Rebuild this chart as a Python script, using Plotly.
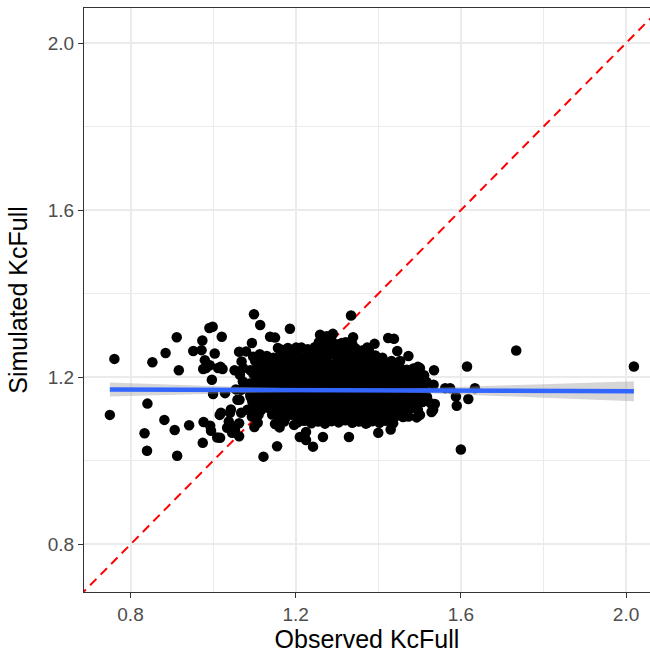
import plotly.graph_objects as go

# ---- data (Observed vs Simulated KcFull) ----
# outlying / peripheral points
obs_outer = [0.761, 0.750, 0.853, 0.912, 0.885, 0.917, 0.841, 0.882, 0.834, 0.907,
             0.942, 0.840, 0.913, 0.975, 0.977, 0.993, 0.995, 1.010, 1.016, 0.991,
             0.999, 0.974, 0.952, 0.972, 1.004, 0.980, 0.992, 0.976, 1.012, 0.997,
             1.000, 1.021, 1.099, 1.114, 1.186, 1.138, 1.150, 1.094, 1.063, 1.080,
             1.157, 1.201, 1.259, 1.275, 1.018, 0.983, 1.334, 1.290, 1.339, 1.263,
             1.424, 1.438, 1.373, 1.391, 1.446, 1.473, 1.453, 1.496, 1.535, 1.312,
             1.615, 1.734, 2.019, 1.600, 1.634, 1.618, 1.590, 1.588, 1.574, 1.562,
             1.534, 1.533, 1.527, 1.501, 1.501, 1.505, 1.034, 1.038, 1.046, 1.063,
             1.063, 1.019, 1.043, 1.059, 1.100, 1.150, 1.161, 1.155, 1.122, 1.210,
             1.225, 1.242, 1.266, 1.196, 1.055, 1.029, 1.064, 1.041, 1.068, 1.041,
             1.053, 1.017, 1.091, 1.023, 1.052, 1.225, 1.329, 1.400, 1.430, 1.373,
             1.460, 1.493, 1.529, 1.537]
sim_outer = [1.244, 1.110, 1.236, 1.296, 1.258, 1.217, 1.137, 1.098, 1.066, 1.074,
             1.085, 1.024, 1.012, 1.043, 1.093, 1.084, 1.072, 1.056, 1.110, 1.318,
             1.321, 1.288, 1.263, 1.265, 1.257, 1.241, 1.229, 1.220, 1.222, 1.194,
             1.160, 1.297, 1.351, 1.325, 1.316, 1.297, 1.295, 1.282, 1.261, 1.262,
             1.270, 1.271, 1.302, 1.298, 1.225, 1.222, 1.348, 1.304, 1.296, 1.297,
             1.294, 1.292, 1.271, 1.280, 1.263, 1.251, 1.239, 1.225, 1.217, 1.282,
             1.226, 1.264, 1.226, 1.027, 1.174, 1.148, 1.132, 1.154, 1.174, 1.174,
             1.182, 1.122, 1.138, 1.110, 1.222, 1.146, 1.079, 1.094, 1.067, 1.059,
             1.090, 1.115, 1.123, 1.146, 1.081, 1.088, 1.080, 1.035, 1.010, 1.057,
             1.050, 1.034, 1.057, 1.086, 1.171, 1.162, 1.146, 1.115, 1.115, 1.086,
             1.074, 1.055, 1.153, 1.220, 1.217, 1.069, 1.057, 1.067, 1.075, 1.091,
             1.105, 1.104, 1.117, 1.136]

# dense core of the cloud (row by row, top to bottom)
obs_core = [
    1.256, 1.271, 1.288, 1.304, 1.321, 1.337,
    1.166, 1.181, 1.197, 1.214, 1.229, 1.246, 1.262, 1.279, 1.295, 1.312, 1.328, 1.345, 1.361, 1.378,
    1.097, 1.113, 1.130, 1.146, 1.163, 1.179, 1.196, 1.212, 1.229, 1.245, 1.262, 1.278, 1.295, 1.311,
    1.327, 1.344, 1.360, 1.377, 1.393, 1.410,
    1.069, 1.102, 1.118, 1.135, 1.151, 1.168, 1.184, 1.201, 1.217, 1.234, 1.250, 1.267, 1.283, 1.300,
    1.316, 1.333, 1.349, 1.366, 1.382, 1.399, 1.415, 1.432, 1.447,
    1.073, 1.090, 1.106, 1.123, 1.139, 1.156, 1.172, 1.189, 1.205, 1.222, 1.238, 1.255, 1.271, 1.288,
    1.304, 1.321, 1.337, 1.354, 1.370, 1.387, 1.403, 1.420, 1.436, 1.453, 1.469, 1.485,
    1.065, 1.098, 1.115, 1.131, 1.148, 1.164, 1.181, 1.197, 1.214, 1.230, 1.247, 1.263, 1.280, 1.296,
    1.313, 1.329, 1.346, 1.362, 1.379, 1.395, 1.412, 1.428, 1.445, 1.461, 1.478, 1.494, 1.511,
    1.072, 1.088, 1.105, 1.121, 1.138, 1.154, 1.171, 1.187, 1.204, 1.220, 1.237, 1.253, 1.270, 1.286,
    1.303, 1.319, 1.336, 1.352, 1.369, 1.385, 1.402, 1.418, 1.435, 1.451, 1.468, 1.484, 1.501, 1.517,
    1.068, 1.084, 1.101, 1.117, 1.134, 1.150, 1.167, 1.183, 1.200, 1.216, 1.233, 1.249, 1.266, 1.282,
    1.299, 1.315, 1.332, 1.348, 1.365, 1.381, 1.398, 1.414, 1.431, 1.447, 1.464, 1.480, 1.497, 1.513,
    1.090, 1.106, 1.123, 1.139, 1.156, 1.172, 1.189, 1.205, 1.222, 1.238, 1.255, 1.271, 1.288, 1.304,
    1.321, 1.337, 1.354, 1.370, 1.387, 1.403, 1.420, 1.436, 1.453, 1.469, 1.486, 1.502, 1.518,
    1.095, 1.111, 1.128, 1.144, 1.161, 1.177, 1.194, 1.210, 1.227, 1.243, 1.260, 1.276, 1.293, 1.309,
    1.326, 1.342, 1.359, 1.375, 1.392, 1.408, 1.425, 1.441, 1.458, 1.474, 1.491, 1.507,
    1.083, 1.100, 1.116, 1.133, 1.149, 1.166, 1.182, 1.199, 1.215, 1.232, 1.248, 1.265, 1.281, 1.298,
    1.314, 1.331, 1.347, 1.364, 1.380, 1.397, 1.413, 1.430, 1.446, 1.463, 1.479, 1.496,
    1.094, 1.110, 1.143, 1.160, 1.176, 1.193, 1.209, 1.226, 1.242, 1.259, 1.275, 1.292, 1.308, 1.325,
    1.341, 1.358, 1.374, 1.391, 1.407, 1.424, 1.440, 1.457, 1.473,
    1.108, 1.172, 1.205, 1.221, 1.238, 1.254, 1.271, 1.287, 1.304, 1.320, 1.337, 1.353, 1.370, 1.386,
    1.403, 1.419, 1.436,
]
sim_core = [
    1.284, 1.281, 1.286, 1.279, 1.284, 1.280,
    1.266, 1.270, 1.264, 1.271, 1.267, 1.272, 1.266, 1.270, 1.265, 1.271, 1.266, 1.269, 1.264, 1.262,
    1.249, 1.255, 1.251, 1.247, 1.253, 1.250, 1.255, 1.249, 1.253, 1.250, 1.256, 1.251, 1.254, 1.249,
    1.255, 1.250, 1.254, 1.249, 1.252, 1.247,
    1.238, 1.239, 1.235, 1.232, 1.238, 1.234, 1.239, 1.233, 1.237, 1.232, 1.238, 1.235, 1.231, 1.237,
    1.234, 1.239, 1.233, 1.236, 1.232, 1.238, 1.234, 1.239, 1.233,
    1.222, 1.217, 1.223, 1.219, 1.216, 1.222, 1.218, 1.223, 1.217, 1.221, 1.216, 1.222, 1.219, 1.224,
    1.218, 1.221, 1.216, 1.222, 1.218, 1.223, 1.217, 1.221, 1.216, 1.222, 1.218, 1.221,
    1.206, 1.207, 1.203, 1.200, 1.206, 1.202, 1.207, 1.201, 1.205, 1.200, 1.206, 1.203, 1.208, 1.202,
    1.205, 1.200, 1.206, 1.202, 1.207, 1.201, 1.205, 1.200, 1.206, 1.202, 1.207, 1.201, 1.205,
    1.190, 1.185, 1.191, 1.187, 1.184, 1.190, 1.186, 1.191, 1.185, 1.189, 1.184, 1.190, 1.187, 1.192,
    1.186, 1.189, 1.184, 1.190, 1.186, 1.191, 1.185, 1.189, 1.184, 1.190, 1.186, 1.191, 1.185, 1.189,
    1.170, 1.174, 1.169, 1.175, 1.171, 1.168, 1.174, 1.170, 1.175, 1.169, 1.173, 1.168, 1.174, 1.171,
    1.176, 1.170, 1.173, 1.168, 1.174, 1.170, 1.175, 1.169, 1.173, 1.168, 1.174, 1.170, 1.175, 1.169,
    1.158, 1.153, 1.159, 1.155, 1.152, 1.158, 1.154, 1.159, 1.153, 1.157, 1.152, 1.158, 1.155, 1.160,
    1.154, 1.157, 1.152, 1.158, 1.154, 1.159, 1.153, 1.157, 1.152, 1.158, 1.154, 1.159, 1.153,
    1.142, 1.137, 1.143, 1.139, 1.136, 1.142, 1.138, 1.143, 1.137, 1.141, 1.136, 1.142, 1.139, 1.144,
    1.138, 1.141, 1.136, 1.142, 1.138, 1.143, 1.137, 1.141, 1.136, 1.142, 1.138, 1.141,
    1.122, 1.126, 1.121, 1.127, 1.123, 1.120, 1.126, 1.122, 1.127, 1.121, 1.125, 1.120, 1.126, 1.123,
    1.128, 1.122, 1.125, 1.120, 1.126, 1.122, 1.127, 1.121, 1.125, 1.120, 1.126, 1.122,
    1.106, 1.110, 1.111, 1.107, 1.104, 1.110, 1.106, 1.111, 1.105, 1.109, 1.104, 1.110, 1.107, 1.112,
    1.106, 1.109, 1.104, 1.110, 1.106, 1.111, 1.105, 1.109, 1.106,
    1.091, 1.094, 1.092, 1.096, 1.090, 1.094, 1.089, 1.095, 1.092, 1.097, 1.091, 1.094, 1.089, 1.095,
    1.091, 1.096, 1.090,
]

# linear smooth (geom_smooth, method = "lm")
smooth_x = [0.750, 0.900, 1.050, 1.200, 1.320, 1.450, 1.600, 1.800, 2.019]
smooth_y = [1.1708, 1.1703, 1.1698, 1.1693, 1.1689, 1.1684, 1.1679, 1.1673, 1.1665]
smooth_lo = [1.1540, 1.1583, 1.1620, 1.1650, 1.1659, 1.1642, 1.1590, 1.1513, 1.1425]
smooth_hi = [1.1876, 1.1823, 1.1776, 1.1736, 1.1719, 1.1726, 1.1768, 1.1833, 1.1905]

# 1:1 reference line
ref_line = [0.6, 2.2]

x_range = [0.6874, 2.058]
y_range = [0.686, 2.084]

obs = obs_outer + obs_core
sim = sim_outer + sim_core

FONT = "Liberation Sans, Arial, Helvetica, sans-serif"

fig = go.Figure()

fig.add_trace(go.Scatter(
    x=ref_line, y=ref_line, mode="lines",
    line=dict(color="#FF0000", width=2, dash="9px,6px"),
    hoverinfo="skip", showlegend=False))

fig.add_trace(go.Scatter(
    x=obs, y=sim, mode="markers",
    marker=dict(color="black", size=10.5, line=dict(width=0)),
    showlegend=False))

fig.add_trace(go.Scatter(
    x=smooth_x + smooth_x[::-1], y=smooth_hi + smooth_lo[::-1],
    fill="toself", fillcolor="rgba(153,153,153,0.4)",
    line=dict(width=0), mode="lines", hoverinfo="skip", showlegend=False))

fig.add_trace(go.Scatter(
    x=smooth_x, y=smooth_y, mode="lines",
    line=dict(color="#3366FF", width=4.5),
    hoverinfo="skip", showlegend=False))

axis_common = dict(
    showgrid=True, gridcolor="#EBEBEB", gridwidth=1.8,
    zeroline=False, automargin=False,
    showline=True, linecolor="#333333", linewidth=1.3,
    ticks="outside", ticklen=5, tickwidth=1.3, tickcolor="#333333",
    tickfont=dict(family=FONT, size=19, color="#4D4D4D"),
    tick0=0.8, dtick=0.4, tickformat=".1f",
    minor=dict(dtick=0.2, tick0=0.8, showgrid=True, gridcolor="#EBEBEB", gridwidth=1, ticks=""),
)

fig.update_xaxes(range=x_range, mirror=True,
                 title=dict(text="Observed KcFull", standoff=8,
                            font=dict(family=FONT, size=25, color="black")),
                 **axis_common)
fig.update_yaxes(range=y_range, mirror=False,
                 title=dict(text="Simulated KcFull", standoff=12,
                            font=dict(family=FONT, size=25, color="black")),
                 **axis_common)

fig.update_layout(
    width=650, height=653,
    margin=dict(l=84, r=0, t=8, b=61),
    plot_bgcolor="white", paper_bgcolor="white",
    showlegend=False,
)

fig.write_html("out.html",
               config={"displayModeBar": False},
               post_script="document.body.style.margin='0';document.body.style.padding='0';")
